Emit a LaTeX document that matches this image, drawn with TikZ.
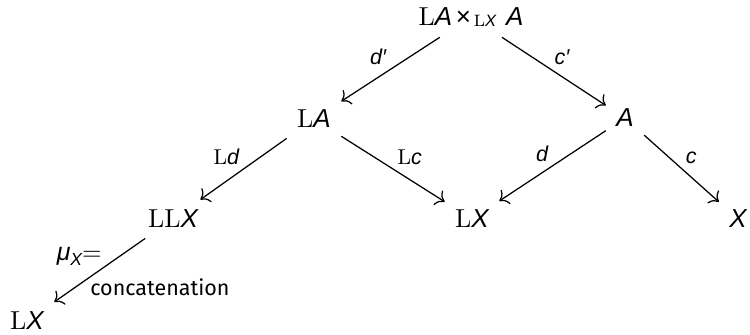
\documentclass[tikz,border=0pt]{standalone}
\usepackage{fontspec}
\usetikzlibrary{arrows.meta}
\newfontfamily\varfont{Liberation Sans}
\newfontfamily\labfont{Fira Sans}
% sans italic variable letters, roman L
\newcommand\V[1]{{\varfont\itshape #1}}
\newcommand\subLX{\raisebox{-0.15ex}{\fontsize{6.6}{7}\selectfont L\V{X}}}
\begin{document}
\begin{tikzpicture}[x=0.4pt,y=-0.4pt,
  obj/.style={inner sep=4pt, font=\fontsize{10.4}{12}\selectfont},
  map/.style={draw, line width=0.5pt, -{To[scale=1.2]}},
  lab/.style={font=\fontsize{8.6}{10}\selectfont, inner sep=1.5pt}]
\useasboundingbox (0,0) rectangle (750,334);
% objects
\node[obj] (P)   at (471,17)  {L\V{A}\kern1.5pt{\varfont ×}\kern1pt\subLX\kern4pt\V{A}};
\node[obj] (LA)  at (314,119) {L\V{A}};
\node[obj] (A)   at (625,118) {\V{A}};
\node[obj] (LLX) at (173,219) {LL\V{X}};
\node[obj] (LX)  at (472,219) {L\V{X}};
\node[obj] (X)   at (738,219) {\V{X}};
\node[obj] (LXb) at (27,321)  {L\V{X}};
% maps
\draw[map] (P) -- (LA) node[lab, midway, above left] {\V{d′}};
\draw[map] (P) -- (A) node[lab, midway, above right, xshift=-1.5pt, yshift=1pt] {\V{c′}};
\draw[map] (LA) -- (LLX) node[lab, midway, above left] {L\V{d}};
\draw[map] (LA) -- (LX) node[lab, midway, above right] {L\V{c}};
\draw[map] (A) -- (LX) node[lab, midway, above left] {\V{d}};
\draw[map] (A) -- (X) node[lab, midway, above right] {\V{c}};
\draw[map] (LLX) -- (LXb)
  node[lab, midway, above left, font=\fontsize{10}{12}\selectfont, xshift=2.5pt]
    {\V{μ}\raisebox{-0.45ex}{\fontsize{7}{8}\selectfont\V{X}}$=$}
  node[lab, midway, below right, xshift=-5.5pt, yshift=-1.5pt] {\labfont concatenation};
\end{tikzpicture}
\end{document}
